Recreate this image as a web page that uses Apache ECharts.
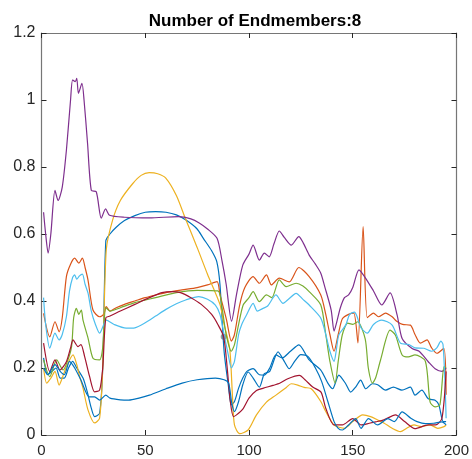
<!DOCTYPE html>
<html>
<head>
<meta charset="utf-8">
<script src="https://cdn.jsdelivr.net/npm/echarts@6/dist/echarts.min.js"></script>
<style>
html,body{margin:0;padding:0;background:#fff;}
#c{width:472px;height:459px;}
</style>
</head>
<body>
<div id="c"></div>
<script>
const titleText = 'Number of Endmembers:8';
const xTicks = [0, 50, 100, 150, 200];
const yTicks = [0, 0.2, 0.4, 0.6, 0.8, 1, 1.2];

// Series 1 (blue, upper arch)
const s1Blue = [[1,0.23],[3,0.18],[5,0.19],[7,0.2],[9,0.17],[11,0.17],[13,0.2],[15,0.22],[17,0.2],[20,0.17],[22,0.13],[24,0.08],[25.6,0.055],[28,0.065],[29.5,0.2],[31,0.58],[33,0.6],[36,0.62],[40,0.64],[45,0.655],[50,0.665],[55,0.667],[60,0.665],[65,0.657],[70,0.64],[75,0.615],[78,0.587],[82,0.55],[84.5,0.517],[86,0.45],[88,0.25],[90,0.15],[91.5,0.09],[93,0.1],[95,0.14],[97,0.17],[99,0.19],[102,0.198],[105,0.18],[107.4,0.179],[110,0.2],[113,0.239],[116,0.23],[120,0.25],[124,0.269],[129,0.224],[134.6,0.194],[138,0.155],[140.3,0.138],[143.3,0.179],[146.6,0.153],[149,0.128],[151.4,0.143],[153.8,0.164],[156.3,0.138],[159.4,0.153],[162,0.15],[165.8,0.134],[169.6,0.143],[173.7,0.134],[177.8,0.143],[180,0.119],[183.3,0.134],[186.4,0.108],[189.7,0.104],[191.5,0.09],[193.6,0.04],[195,0.04]];
// Series 2 (orange)
const s2Orange = [[1,0.363],[4,0.293],[6.5,0.338],[8.5,0.308],[10,0.35],[12,0.473],[14,0.51],[16,0.528],[18,0.513],[19.7,0.528],[21,0.5],[22.4,0.463],[24.8,0.373],[28,0.353],[30,0.36],[31.2,0.383],[33,0.37],[36,0.38],[40,0.39],[45,0.4],[50,0.41],[55,0.418],[60,0.425],[67.7,0.433],[75,0.44],[80,0.448],[84.6,0.458],[86,0.42],[89.2,0.343],[91.5,0.28],[93,0.3],[95.5,0.388],[98,0.44],[102,0.473],[105,0.453],[108.4,0.478],[110.8,0.448],[114.6,0.468],[119.4,0.457],[124,0.5],[129,0.473],[134.6,0.418],[137,0.36],[139,0.3],[141,0.25],[143,0.3],[145,0.347],[148,0.36],[150.5,0.364],[152.5,0.275],[155,0.622],[157,0.35],[160,0.364],[162.4,0.353],[165.8,0.364],[169,0.353],[171,0.34],[174,0.33],[177.8,0.328],[180,0.3],[182.6,0.274],[185.8,0.284],[188,0.26],[190.6,0.244],[193.9,0.259],[195,0.12]];
// Series 3 (yellow)
const s3Yellow = [[1,0.2],[2.5,0.155],[4.5,0.17],[6.5,0.19],[8.5,0.149],[10,0.17],[12,0.204],[15.2,0.239],[17,0.21],[18.4,0.174],[20,0.14],[22.4,0.075],[25.6,0.036],[28,0.05],[29.5,0.2],[31.2,0.552],[34.3,0.642],[38,0.7],[43.9,0.75],[48,0.775],[51.9,0.783],[56,0.78],[59.9,0.767],[65,0.715],[69.3,0.647],[75,0.56],[80,0.48],[86,0.39],[88,0.33],[90.7,0.258],[92,0.12],[93,0.03],[95.5,0.004],[99.6,0.015],[103.6,0.06],[108.4,0.098],[113,0.119],[118,0.142],[120.3,0.153],[123.5,0.149],[126.6,0.142],[130,0.138],[134.6,0.1],[137,0.07],[141,0.03],[146,0.02],[150,0.04],[154.8,0.06],[158.6,0.055],[162,0.045],[165,0.036],[169,0.02],[173,0.01],[176,0.02],[179.5,0.03],[183,0.025],[187.3,0.03],[191,0.02],[194,0.025],[195,0.03]];
// Series 4 (purple)
const s4Purple = [[1,0.665],[2,0.6],[3.2,0.543],[4.5,0.6],[6.5,0.73],[8,0.7],[10,0.74],[12,0.85],[14,1.0],[15,1.06],[16.3,1.055],[17,1.065],[17.8,1.02],[19.5,1.05],[20.5,1.0],[22.2,0.87],[24,0.73],[26.4,0.726],[28.8,0.647],[30.9,0.675],[32.8,0.656],[40,0.65],[52,0.648],[66,0.652],[72,0.645],[76,0.633],[80,0.615],[84.6,0.587],[87,0.52],[89,0.45],[91.6,0.34],[94,0.42],[97,0.507],[100,0.54],[102,0.567],[105,0.522],[107.4,0.543],[109.7,0.532],[112,0.57],[114.6,0.609],[117,0.59],[120.4,0.567],[124,0.592],[126,0.575],[129,0.537],[132,0.51],[134.6,0.483],[136.5,0.443],[139.6,0.373],[141,0.31],[142,0.33],[144,0.379],[146,0.41],[148,0.418],[150,0.44],[153,0.493],[156,0.47],[160,0.43],[164,0.388],[168,0.424],[171.4,0.358],[173.8,0.288],[178.6,0.258],[182,0.25],[186.5,0.218],[189.7,0.198],[193,0.19],[195,0.2]];
// Series 5 (green)
const s5Green = [[1,0.224],[4,0.174],[7.3,0.224],[10.4,0.194],[12.5,0.22],[14.5,0.264],[15.5,0.35],[16.8,0.378],[18,0.36],[19.2,0.373],[20,0.343],[22.4,0.29],[24.8,0.229],[28,0.224],[29.5,0.26],[31,0.38],[33,0.37],[38,0.38],[45,0.395],[55,0.41],[65,0.425],[75,0.432],[85,0.43],[87,0.38],[89,0.3],[91.5,0.25],[93,0.27],[95,0.33],[97.2,0.388],[100,0.41],[102,0.428],[105,0.398],[108.4,0.418],[111,0.41],[114.6,0.463],[117.9,0.443],[122.7,0.453],[126,0.445],[129,0.428],[134.6,0.388],[137,0.3],[139,0.22],[141.5,0.155],[143,0.22],[145,0.3],[147.6,0.334],[150,0.33],[152.4,0.338],[156,0.287],[157.5,0.2],[159.5,0.155],[161,0.17],[163.4,0.224],[168,0.313],[170.6,0.298],[173.8,0.239],[176.8,0.233],[180,0.239],[185,0.22],[187.3,0.098],[189.7,0.084],[192,0.09],[194,0.204],[195,0.2]];
// Series 6 (light blue)
const s6Cyan = [[1,0.41],[2,0.33],[4,0.259],[6.5,0.304],[8.5,0.284],[10,0.3],[12,0.353],[13.5,0.43],[15,0.47],[16,0.478],[17,0.465],[18.3,0.475],[19.7,0.48],[21,0.45],[22.4,0.424],[24,0.37],[26,0.33],[28,0.304],[30,0.33],[31.2,0.343],[35,0.33],[40.8,0.319],[45,0.32],[50,0.335],[55,0.355],[60,0.375],[65,0.392],[69.5,0.403],[75.8,0.413],[80,0.405],[83.8,0.388],[86,0.36],[88,0.3],[90,0.24],[91.5,0.2],[93,0.22],[95,0.3],[96.5,0.33],[98.8,0.358],[102,0.393],[104,0.37],[106.8,0.378],[109,0.385],[113,0.418],[116.4,0.393],[119,0.405],[122.7,0.423],[126,0.405],[129,0.388],[134.6,0.349],[137,0.3],[139,0.25],[141,0.22],[142,0.25],[143.3,0.299],[146.6,0.328],[148.5,0.36],[150.8,0.367],[152,0.355],[154,0.32],[157,0.304],[160,0.33],[164,0.343],[169,0.328],[173,0.274],[177,0.27],[180,0.26],[184.3,0.259],[188,0.25],[190.5,0.26],[192.5,0.28],[193.5,0.27],[194.5,0.15],[195,0.05]];
// Series 7 (dark red)
const s7DarkRed = [[1,0.274],[4,0.189],[6.5,0.224],[8.9,0.194],[12,0.219],[14,0.26],[15.2,0.284],[17.6,0.264],[19,0.27],[20.8,0.234],[23.2,0.174],[25.6,0.129],[28,0.134],[29.5,0.2],[31,0.35],[33,0.355],[38,0.37],[45,0.39],[52,0.41],[58,0.425],[63,0.428],[67,0.425],[72,0.41],[77,0.39],[82,0.36],[85,0.33],[87.8,0.293],[89.5,0.2],[91,0.1],[92.5,0.055],[94,0.06],[97.2,0.079],[100,0.11],[103.6,0.133],[107,0.14],[111.6,0.148],[115,0.155],[118.7,0.168],[124.3,0.178],[127,0.165],[130.7,0.143],[134.7,0.128],[137,0.08],[141,0.03],[145,0.03],[150,0.049],[154,0.03],[158,0.035],[161,0.039],[165,0.045],[170.6,0.06],[175,0.04],[180,0.019],[186.4,0.03],[190,0.03],[193,0.05],[195,0.19]];
// Series 8 (blue, lower)
const s8Blue = [[1,0.2],[3,0.18],[6.5,0.21],[9,0.19],[11,0.18],[13.5,0.22],[16,0.2],[19,0.164],[23,0.114],[25.6,0.114],[28,0.104],[31,0.119],[33,0.11],[38,0.105],[42,0.104],[47,0.11],[52,0.119],[60,0.138],[67.8,0.155],[75,0.165],[83.8,0.17],[88,0.165],[90.2,0.155],[91.7,0.095],[93,0.07],[95,0.1],[97,0.15],[99.6,0.188],[102,0.17],[105,0.143],[107.4,0.183],[110,0.19],[114,0.248],[117,0.22],[119.4,0.198],[122,0.22],[125,0.24],[128.5,0.234],[132,0.2],[135,0.16],[138,0.1],[141,0.04],[143,0.02],[145,0.015],[148,0.03],[151.4,0.049],[154,0.02],[157.6,0.049],[162,0.03],[167,0.049],[170,0.04],[173.8,0.069],[178,0.05],[181,0.04],[185,0.034],[189,0.035],[193,0.039],[195,0.03]];
// Data tip marker
const markerPoint = [[87.8, 0.293]];

const seriesList = [
  {name:'1', data:s1Blue, color:'#0072BD'},
  {name:'2', data:s2Orange, color:'#D95319'},
  {name:'3', data:s3Yellow, color:'#EDB120'},
  {name:'4', data:s4Purple, color:'#7E2F8E'},
  {name:'5', data:s5Green, color:'#77AC30'},
  {name:'6', data:s6Cyan, color:'#4DBEEE'},
  {name:'7', data:s7DarkRed, color:'#A2142F'},
  {name:'8', data:s8Blue, color:'#0072BD'}
];

const chart = echarts.init(document.getElementById('c'), null, {renderer:'canvas'});
const axisColor = '#767676';
const labelColor = '#262626';
const fontFam = 'Liberation Sans, Arial, Helvetica, sans-serif';

const series = seriesList.map(s => ({
  type:'line', name:s.name, data:s.data, xAxisIndex:0, yAxisIndex:0,
  showSymbol:false, smooth:0.25, animation:false,
  lineStyle:{color:s.color, width:1.2}, itemStyle:{color:s.color}
}));
series.push({type:'scatter', data:markerPoint, xAxisIndex:0, yAxisIndex:0, symbolSize:6,
  itemStyle:{color:'#808080'}, animation:false});

chart.setOption({
  backgroundColor:'#ffffff',
  animation:false,
  title:{text:titleText, left:250, top:8, textAlign:'center',
    textStyle:{fontSize:17, fontWeight:'bold', color:'#000', fontFamily:fontFam}},
  grid:{left:41.5, right:13, top:33, bottom:24, containLabel:false},
  xAxis:[
    {type:'value', min:0, max:200, interval:50, position:'bottom',
     axisLine:{show:true, onZero:false, lineStyle:{color:axisColor, width:1.2}},
     axisTick:{show:true, inside:true, length:5, lineStyle:{color:labelColor}},
     axisLabel:{color:labelColor, fontSize:15, margin:8, fontFamily:fontFam},
     splitLine:{show:false}},
    {type:'value', min:0, max:200, interval:50, position:'top',
     axisLine:{show:true, onZero:false, lineStyle:{color:axisColor, width:1.2}},
     axisTick:{show:true, inside:true, length:5, lineStyle:{color:labelColor}},
     axisLabel:{show:false}, splitLine:{show:false}}
  ],
  yAxis:[
    {type:'value', min:0, max:1.2, interval:0.2, position:'left',
     axisLine:{show:true, onZero:false, lineStyle:{color:axisColor, width:1.2}},
     axisTick:{show:true, inside:true, length:5, lineStyle:{color:labelColor}},
     axisLabel:{color:labelColor, fontSize:16, margin:6, fontFamily:fontFam},
     splitLine:{show:false}},
    {type:'value', min:0, max:1.2, interval:0.2, position:'right',
     axisLine:{show:true, onZero:false, lineStyle:{color:axisColor, width:1.2}},
     axisTick:{show:true, inside:true, length:5, lineStyle:{color:labelColor}},
     axisLabel:{show:false}, splitLine:{show:false}}
  ],
  series:series
});
</script>
</body>
</html>
